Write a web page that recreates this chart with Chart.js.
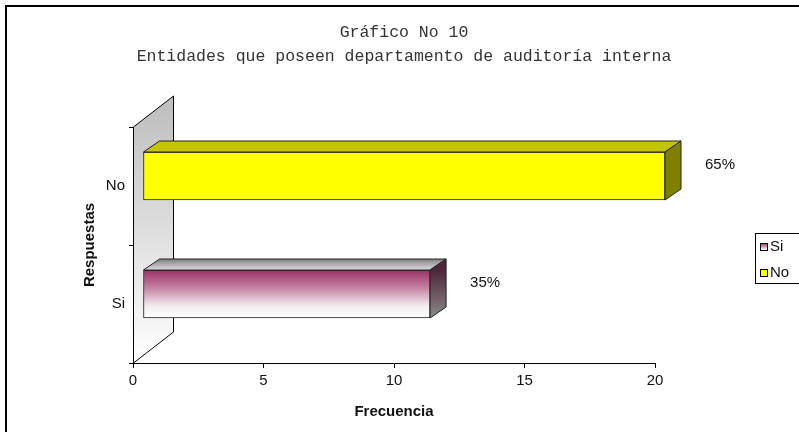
<!DOCTYPE html>
<html>
<head>
<meta charset="utf-8">
<script src="https://cdn.jsdelivr.net/npm/chart.js@4.4.0/dist/chart.umd.min.js"></script>
<style>
  html, body { margin: 0; padding: 0; background: #fff; overflow: hidden; }
  #wrap { width: 799px; height: 432px; position: relative; }
</style>
</head>
<body>
<div id="wrap"><canvas id="grafico" width="799" height="432"></canvas></div>
<script>
// datos
var categorias = ['Si', 'No'];
var frecuencias = [11, 20];
var porcentajes = ['35%', '65%'];
var ticksX = [0, 5, 10, 15, 20];
var tituloLineas = ['Gráfico No 10', 'Entidades que poseen departamento de auditoría interna'];

// efecto 3D (estilo excel)
var DESP = { dx: 10, dy: -10 };   // la barra esta metida en el piso
var PROF = { dx: 16, dy: -11 };   // profundidad de la barra
var PARED = { dx: 40, dy: -31 };  // profundidad de la pared

Chart.defaults.font.family = '"Liberation Sans", Arial, sans-serif';
Chart.defaults.color = '#111';

function gradSi(ctx, top, bottom) {
  var g = ctx.createLinearGradient(0, top, 0, bottom);
  g.addColorStop(0, '#993366');
  g.addColorStop(0.35, '#c27c9f');
  g.addColorStop(0.75, '#f3ecef');
  g.addColorStop(1, '#ffffff');
  return g;
}

function colorFrente(c) {
  if (c.dataIndex === 1) return '#ffff00';
  var chart = c.chart;
  if (!chart.chartArea || !chart.scales.y) return '#c27c9f';
  var yc = chart.scales.y.getPixelForValue(c.dataIndex);
  return gradSi(chart.ctx, yc - 24, yc + 24);
}

var efecto3d = {
  id: 'efecto3d',
  beforeDraw: function (chart) {
    var ctx = chart.ctx;
    ctx.save();
    ctx.fillStyle = '#fff';
    ctx.fillRect(0, 0, chart.width, chart.height);
    ctx.lineWidth = 2;
    ctx.strokeStyle = '#000';
    ctx.strokeRect(6, 6, chart.width + 20, chart.height + 20);
    ctx.restore();
  },
  beforeDatasetsDraw: function (chart) {
    var ctx = chart.ctx, a = chart.chartArea;
    var x0 = Math.round(chart.scales.x.getPixelForValue(0)) + 0.5;
    ctx.save();
    var g = ctx.createLinearGradient(0, a.top + PARED.dy, 0, a.bottom);
    g.addColorStop(0, '#bdbdbd');
    g.addColorStop(1, '#ffffff');
    ctx.beginPath();
    ctx.moveTo(x0, a.top);
    ctx.lineTo(x0 + PARED.dx, a.top + PARED.dy);
    ctx.lineTo(x0 + PARED.dx, a.bottom + PARED.dy);
    ctx.lineTo(x0, a.bottom);
    ctx.closePath();
    ctx.fillStyle = g;
    ctx.fill();
    ctx.lineWidth = 1;
    ctx.strokeStyle = '#000';
    ctx.stroke();
    ctx.restore();
    ctx.save();
    ctx.translate(DESP.dx, DESP.dy);
  },
  afterDatasetsDraw: function (chart) {
    var ctx = chart.ctx;
    var meta = chart.getDatasetMeta(0);
    meta.data.forEach(function (bar, i) {
      var p = bar.getProps(['x', 'y', 'base', 'height'], true);
      var top = p.y - p.height / 2, bot = p.y + p.height / 2;
      ctx.lineWidth = 1;
      ctx.strokeStyle = '#222';
      // cara de arriba
      ctx.beginPath();
      ctx.moveTo(p.base, top);
      ctx.lineTo(p.base + PROF.dx, top + PROF.dy);
      ctx.lineTo(p.x + PROF.dx, top + PROF.dy);
      ctx.lineTo(p.x, top);
      ctx.closePath();
      if (i === 0) {
        var g1 = ctx.createLinearGradient(0, top + PROF.dy, 0, top);
        g1.addColorStop(0, '#808080');
        g1.addColorStop(1, '#e2dde0');
        ctx.fillStyle = g1;
      } else {
        ctx.fillStyle = '#c4c400';
      }
      ctx.fill();
      ctx.stroke();
      // cara lateral
      ctx.beginPath();
      ctx.moveTo(p.x, top);
      ctx.lineTo(p.x + PROF.dx, top + PROF.dy);
      ctx.lineTo(p.x + PROF.dx, bot + PROF.dy);
      ctx.lineTo(p.x, bot);
      ctx.closePath();
      if (i === 0) {
        var g2 = ctx.createLinearGradient(0, top, 0, bot);
        g2.addColorStop(0, '#4d2639');
        g2.addColorStop(1, '#8a8a8a');
        ctx.fillStyle = g2;
      } else {
        ctx.fillStyle = '#808000';
      }
      ctx.fill();
      ctx.stroke();
    });
    ctx.restore();

    // porcentajes
    ctx.save();
    ctx.font = '15px "Liberation Sans", Arial, sans-serif';
    ctx.fillStyle = '#111';
    ctx.textAlign = 'left';
    ctx.textBaseline = 'middle';
    meta.data.forEach(function (bar, i) {
      var p = bar.getProps(['x', 'y'], true);
      ctx.fillText(porcentajes[i], p.x + DESP.dx + PROF.dx + 24, p.y + DESP.dy + PROF.dy);
    });
    ctx.restore();
  },
  afterDraw: function (chart) {
    // leyenda (queda cortada en el borde, como en el original)
    var ctx = chart.ctx;
    var lx = 755, ly = 233;
    ctx.save();
    ctx.lineWidth = 1;
    ctx.strokeStyle = '#000';
    ctx.fillStyle = '#fff';
    ctx.fillRect(lx + 0.5, ly + 0.5, 80, 50);
    ctx.strokeRect(lx + 0.5, ly + 0.5, 80, 50);
    ctx.font = '15px "Liberation Sans", Arial, sans-serif';
    ctx.textBaseline = 'middle';
    categorias.forEach(function (cat, i) {
      var sy = ly + 10 + i * 26;
      ctx.fillStyle = i === 0 ? gradSi(ctx, sy, sy + 8) : '#ffff00';
      ctx.fillRect(lx + 5.5, sy + 0.5, 7, 7);
      ctx.strokeRect(lx + 5.5, sy + 0.5, 7, 7);
      ctx.fillStyle = '#111';
      ctx.fillText(cat, lx + 15, sy + 4);
    });
    ctx.restore();
  }
};

var ctx = document.getElementById('grafico').getContext('2d');
new Chart(ctx, {
  type: 'bar',
  data: {
    labels: categorias,
    datasets: [{
      label: 'Frecuencia',
      data: frecuencias,
      backgroundColor: colorFrente,
      borderColor: '#222',
      borderWidth: 1,
      borderSkipped: false,
      barThickness: 48,
      clip: false
    }]
  },
  options: {
    indexAxis: 'y',
    responsive: false,
    animation: false,
    devicePixelRatio: 1,
    layout: { padding: { left: 10, right: 1, top: 10, bottom: 0 } },
    plugins: {
      legend: { display: false },
      tooltip: { enabled: false },
      title: {
        display: true,
        text: tituloLineas,
        color: '#333',
        font: { family: '"Liberation Mono", "Courier New", monospace', size: 16.5, weight: 'normal', lineHeight: '24px' },
        padding: { top: 11, bottom: 58 }
      }
    },
    scales: {
      x: {
        min: 0,
        max: 20,
        afterBuildTicks: function (s) {
          s.ticks = ticksX.map(function (v) { return { value: v }; });
        },
        afterFit: function (s) { s.height = 69; },
        border: { display: true, color: '#000', width: 1 },
        grid: { display: true, drawOnChartArea: false, drawTicks: true, tickLength: 5, color: '#000' },
        ticks: { font: { size: 15 }, color: '#111', padding: 4 },
        title: { display: true, text: 'Frecuencia', font: { size: 15, weight: 'bold' }, color: '#111', padding: { top: 0, bottom: 11 } }
      },
      y: {
        reverse: true,
        afterFit: function (s) { s.width = 123; },
        border: { display: true, color: '#000', width: 1 },
        grid: { display: true, drawOnChartArea: false, drawTicks: true, tickLength: 4, color: '#000', offset: true },
        ticks: { font: { size: 15 }, color: '#111', padding: 4 },
        title: { display: true, text: 'Respuestas', font: { size: 15, weight: 'bold' }, color: '#111', padding: { top: 71, bottom: 0 } }
      },
      relleno: {
        type: 'linear',
        position: 'right',
        display: true,
        afterFit: function (s) { s.width = 143; },
        border: { display: false },
        grid: { display: false },
        ticks: { display: false }
      }
    }
  },
  plugins: [efecto3d]
});
</script>
</body>
</html>
